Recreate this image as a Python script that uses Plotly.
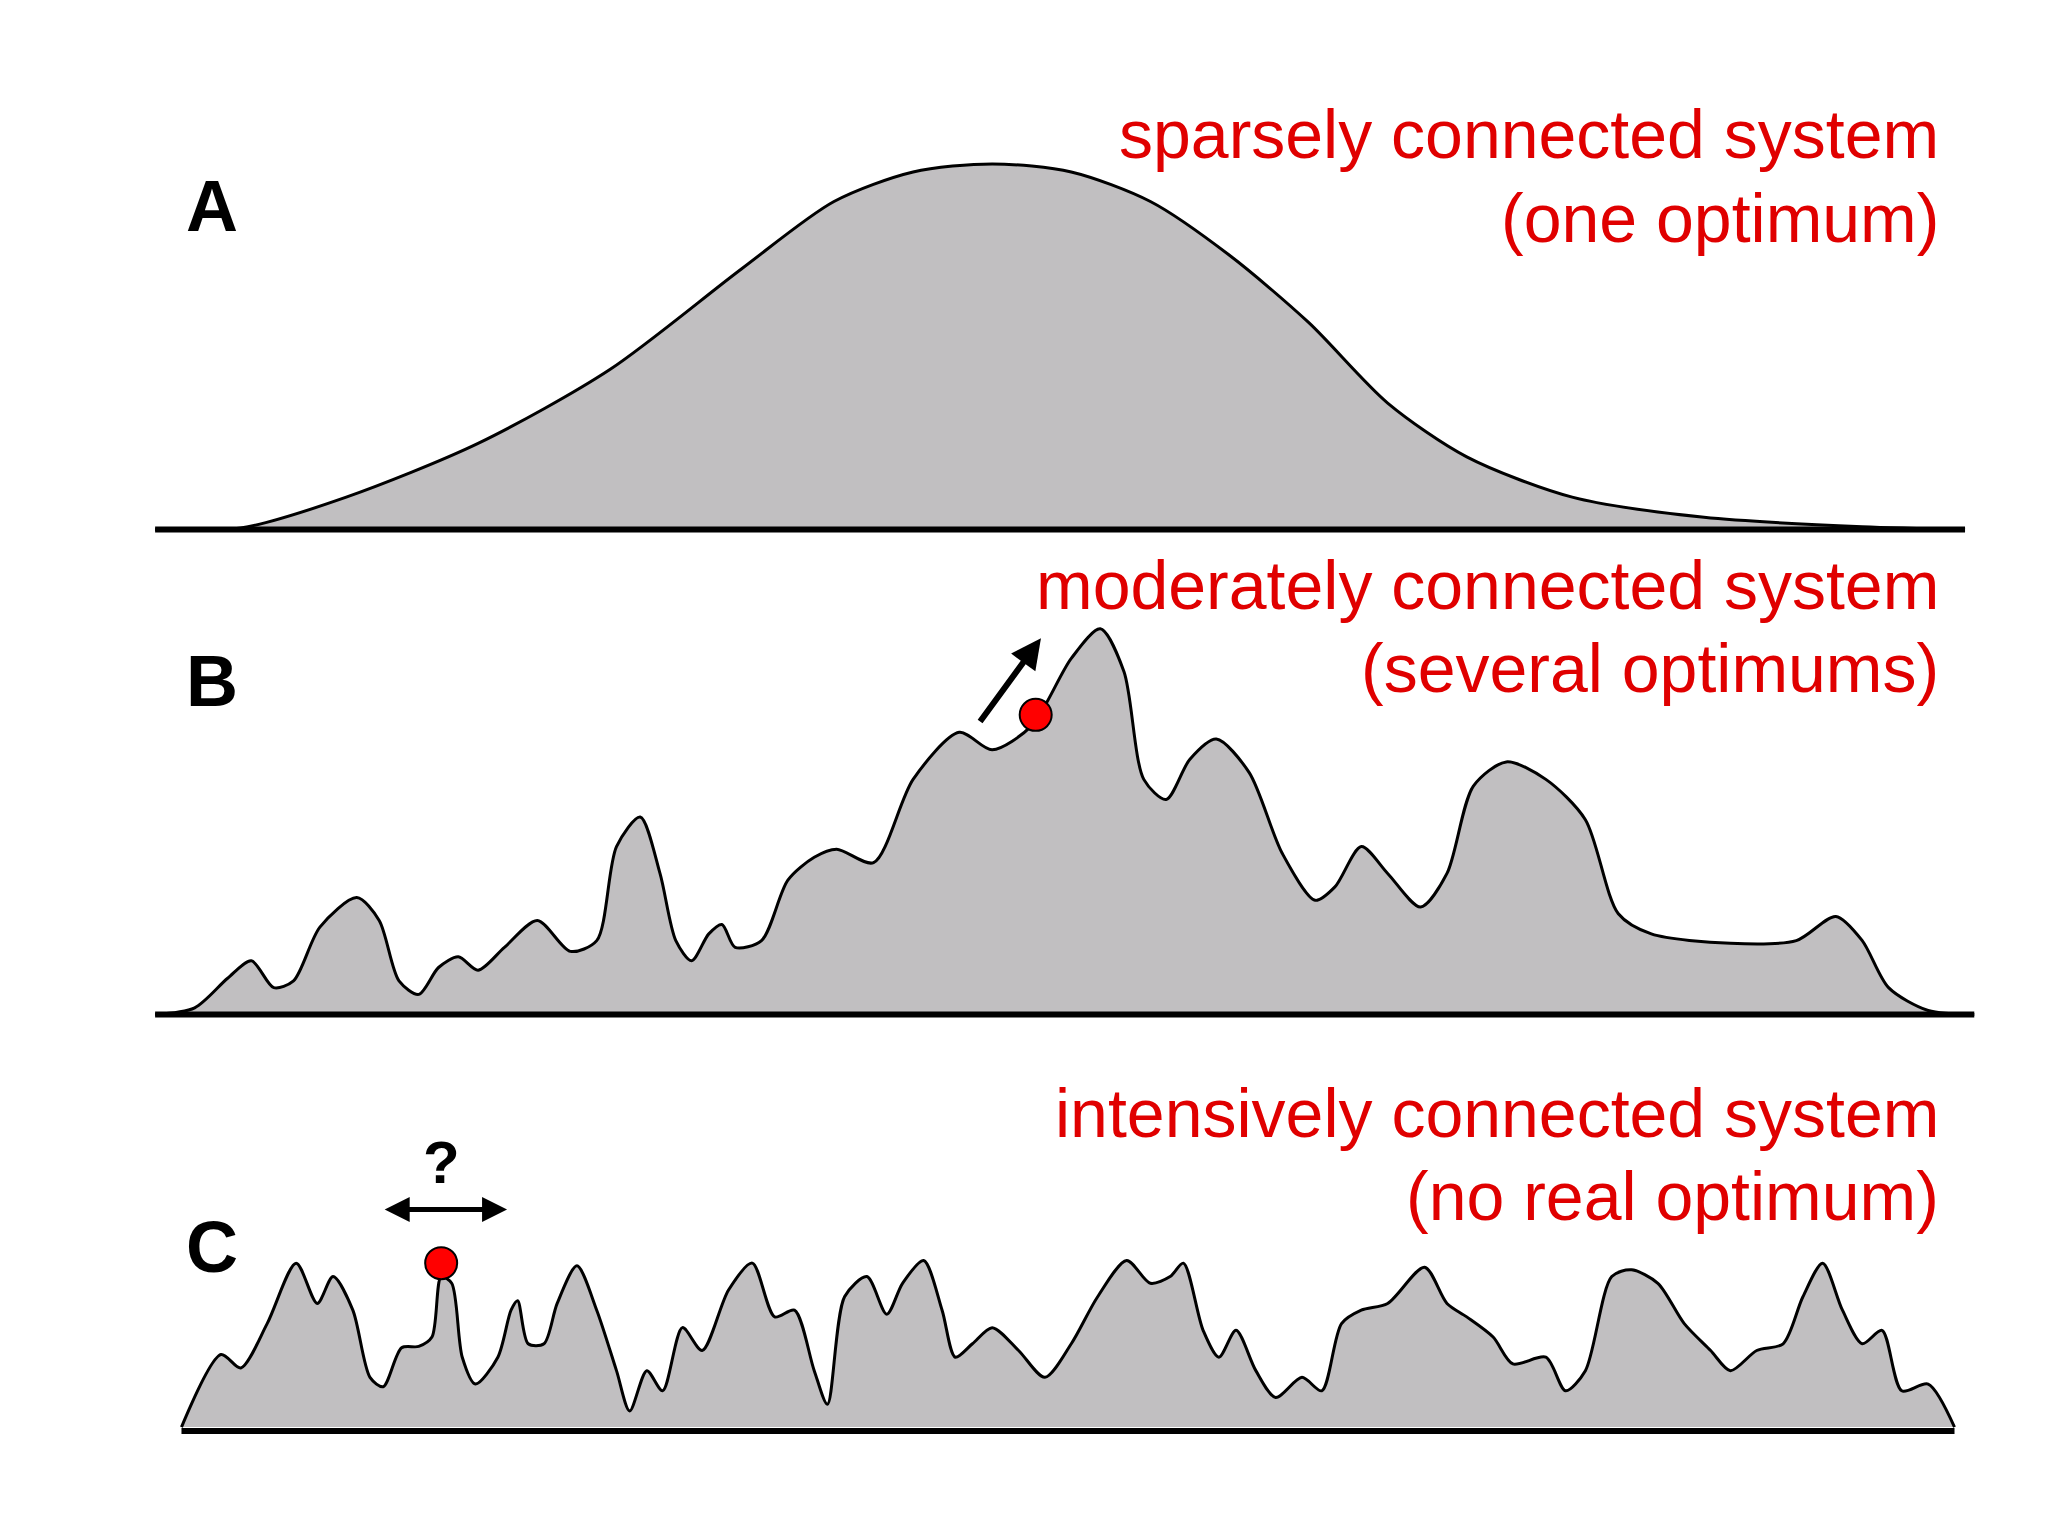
import plotly.graph_objects as go

# landscape outlines (image pixel coordinates, y down)
a_x = [105, 170, 250, 350, 450, 550, 620, 680, 740, 800, 860, 920, 980, 1040, 1100, 1180, 1280, 1400, 1478]
a_y = [384, 383, 360, 320, 265, 190, 140, 118, 112, 118, 140, 180, 230, 290, 330, 360, 375, 382, 384]

b_x = [105, 135, 160, 178, 195, 210, 230, 258, 275, 290, 305, 320, 335, 350, 370, 395, 420, 440, 455, 473,
       488, 500, 512, 525, 535, 545, 565, 585, 605, 622, 650, 680, 715, 740, 770, 800, 822, 840, 855, 872,
       890, 910, 935, 960, 985, 1000, 1020, 1040, 1065, 1085, 1105, 1130, 1160, 1190, 1215, 1240, 1300,
       1350, 1380, 1400, 1420, 1450, 1485]
b_y = [745, 740, 718, 705, 725, 720, 680, 658, 675, 720, 730, 710, 702, 712, 695, 675, 698, 690, 620, 598,
       640, 690, 705, 685, 678, 695, 690, 645, 628, 622, 632, 570, 535, 548, 530, 480, 458, 490, 570, 585,
       555, 540, 565, 625, 660, 650, 620, 640, 665, 640, 575, 557, 570, 600, 670, 685, 692,
       690, 672, 690, 725, 742, 745]

c_x = [125, 155, 170, 190, 212, 228, 240, 255, 268, 278, 292, 305, 315, 322, 330, 338, 348, 365, 375, 380,
       388, 400, 410, 425, 440, 455, 465, 478, 490, 505, 520, 540, 558, 575, 590, 605, 615, 628, 645, 660,
       672, 688, 702, 712, 725, 740, 760, 780, 800, 820, 842, 860, 875, 885, 900, 912, 925, 940, 955, 975,
       990, 1005, 1020, 1040, 1068, 1085, 1100, 1120, 1135, 1160, 1175, 1190, 1210, 1225, 1245, 1265, 1285,
       1300, 1320, 1340, 1355, 1370, 1385, 1400, 1415, 1430, 1450, 1470]
c_y = [1052, 998, 1008, 975, 930, 960, 940, 965, 1015, 1022, 993, 992, 985, 940, 945, 1000, 1020, 1000, 965, 958,
       990, 990, 960, 932, 965, 1010, 1040, 1010, 1025, 978, 995, 950, 930, 970, 965, 1010, 1035, 955, 940, 968,
       945, 928, 965, 1000, 990, 978, 995, 1015, 990, 955, 928, 945, 940, 930, 980, 1000, 980, 1010, 1030, 1015,
       1025, 975, 965, 960, 933, 960, 970, 985, 1005, 1000, 1025, 1010, 940, 935, 945, 975, 995,
       1010, 995, 990, 955, 930, 965, 990, 980, 1025, 1020, 1052]

panels = [
    ("A", a_x, a_y, 384, ["sparsely connected system", "(one optimum)"], 143, 90),
    ("B", b_x, b_y, 745, ["moderately connected system", "(several optimums)"], 497, 425),
    ("C", c_x, c_y, 1055, ["intensively connected system", "(no real optimum)"], 918, 818),
]

fig = go.Figure()
for label, xs, ys, base, texts, ly, ty in panels:
    fig.add_trace(go.Scatter(x=xs, y=ys, mode="lines", fill="toself", fillcolor="#c1bfc1",
                             line=dict(color="black", width=3, shape="spline", smoothing=0.8),
                             hoverinfo="skip"))
    fig.add_shape(type="line", x0=xs[0], x1=xs[-1], y0=base, y1=base, line=dict(color="black", width=6))
    fig.add_annotation(x=148, y=ly, text="<b>" + label + "</b>", showarrow=False,
                       font=dict(size=72, family="Arial", color="black"))
    for i, t in enumerate(texts):
        fig.add_annotation(x=1460, y=ty + i * 62, text=t, showarrow=False, xanchor="right",
                           font=dict(size=68, family="Arial", color="#e00000"))

fig.add_trace(go.Scatter(x=[773, 322], y=[522, 930], mode="markers",
                         marker=dict(color="red", size=32, line=dict(color="black", width=2)),
                         hoverinfo="skip"))
# arrows
fig.add_annotation(x=777, y=465, ax=730, ay=528, xref="x", yref="y", axref="x", ayref="y", text="",
                   showarrow=True, arrowhead=2, arrowsize=1, arrowwidth=6, arrowcolor="black")
fig.add_annotation(x=372, y=890, ax=278, ay=890, xref="x", yref="y", axref="x", ayref="y", text="",
                   showarrow=True, arrowhead=2, arrowside="end+start", arrowsize=1, arrowwidth=5,
                   arrowcolor="black")
fig.add_annotation(x=322, y=855, text="<b>?</b>", showarrow=False,
                   font=dict(size=60, family="Arial", color="black"))

fig.update_layout(width=2048, height=1536, margin=dict(l=0, r=0, t=0, b=0),
                  plot_bgcolor="white", paper_bgcolor="white", showlegend=False,
                  xaxis=dict(range=[-6.6, 1547], visible=False),
                  yaxis=dict(range=[1139, -4], visible=False))
fig.write_html("out.html")
